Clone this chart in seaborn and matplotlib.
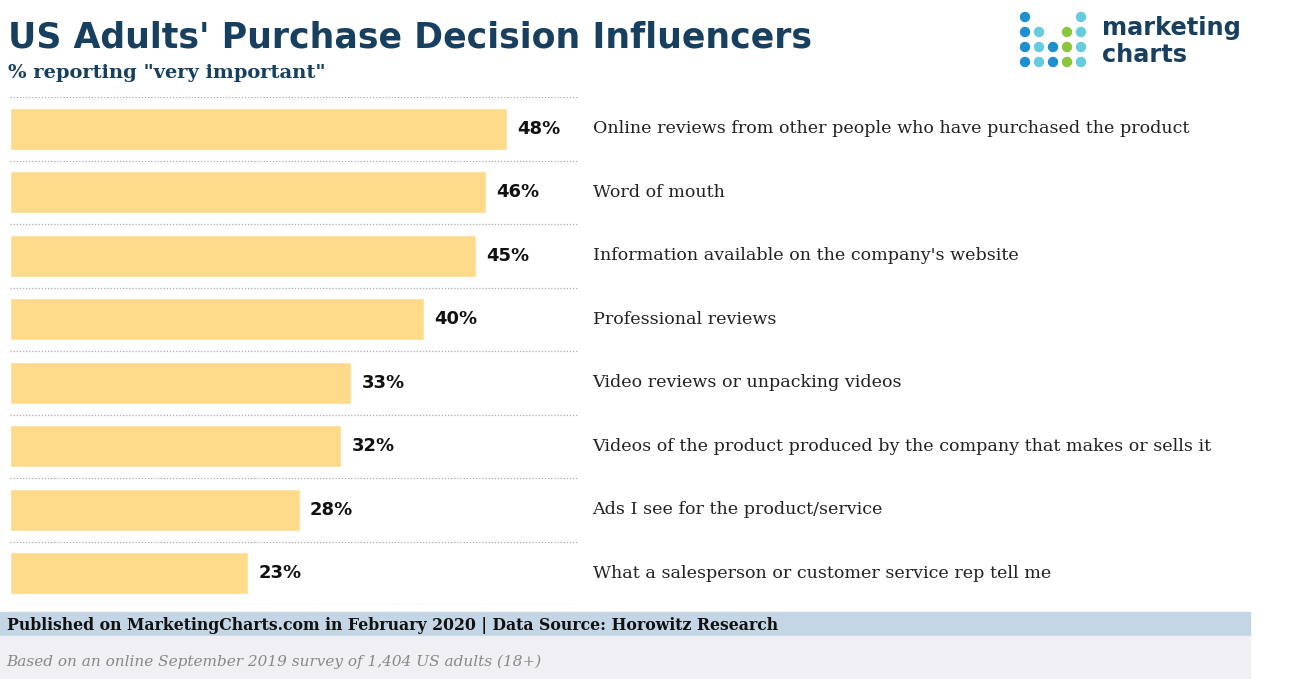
import numpy as np
import pandas as pd
import matplotlib
matplotlib.use("Agg")
import matplotlib.pyplot as plt
import seaborn as sns
from matplotlib.patches import Rectangle

labels = ["Online reviews from other people who have purchased the product",
          "Word of mouth",
          "Information available on the company's website",
          "Professional reviews",
          "Video reviews or unpacking videos",
          "Videos of the product produced by the company that makes or sells it",
          "Ads I see for the product/service",
          "What a salesperson or customer service rep tell me"]
values = [48, 46, 45, 40, 33, 32, 28, 23]

df = pd.DataFrame({"label": labels, "value": values})

sns.set_style("white")
fig = plt.figure(figsize=(13.09, 6.79), dpi=100)
ax = fig.add_axes([0.0076, 0.109, 0.434, 0.748])
sns.barplot(data=df, x="value", y="label", color="#fedb8b", width=0.66, saturation=1, ax=ax)
ax.set_xlim(0, 54.9)
ax.set_ylim(7.5, -0.5)
for i in range(9):
    ax.axhline(i - 0.5, color="#aaaaaa", ls=(0, (1, 1.5)), lw=0.9)
for i, v in enumerate(values):
    ax.text(v + 1, i, f"{v}%", va="center", ha="left", fontsize=13, fontweight="bold", color="#111111")
    ax.text(56.3, i, labels[i], va="center", ha="left", fontsize=12.6, family="DejaVu Serif",
            color="#222222", clip_on=False)
ax.set_xticks([]); ax.set_yticks([])
ax.set_xlabel(""); ax.set_ylabel("")
sns.despine(ax=ax, left=True, bottom=True)

navy = "#173f5f"
fig.text(0.006, 0.945, "US Adults' Purchase Decision Influencers", fontsize=25, fontweight="bold",
         color=navy, va="center")
fig.text(0.006, 0.892, '% reporting "very important"', fontsize=14, fontweight="bold",
         color=navy, va="center", family="DejaVu Serif")

# footer bands
fig.patches.append(Rectangle((0, 679 - 636), 1250, 24, transform=None, color="#c4d6e6", zorder=0))
fig.patches.append(Rectangle((0, 0), 1250, 679 - 636, transform=None, color="#f0f0f4", zorder=0))
fig.text(0.005, 1 - 625 / 679, "Published on MarketingCharts.com in February 2020 | Data Source: Horowitz Research",
         fontsize=11.3, fontweight="bold", family="DejaVu Serif", color="#111111", va="center")
fig.text(0.005, 1 - 662 / 679, "Based on an online September 2019 survey of 1,404 US adults (18+)",
         fontsize=11, style="italic", family="DejaVu Serif", color="#888888", va="center")

# logo
dots = [(0, 0, "#1e8fcf"), (0, 1, "#1e8fcf"), (0, 2, "#1e8fcf"), (0, 3, "#1e8fcf"),
        (1, 1, "#66ccdd"), (1, 2, "#66ccdd"), (1, 3, "#66ccdd"),
        (2, 2, "#1e8fcf"), (2, 3, "#1e8fcf"),
        (3, 1, "#8cc63f"), (3, 2, "#8cc63f"), (3, 3, "#8cc63f"),
        (4, 0, "#66ccdd"), (4, 1, "#66ccdd"), (4, 2, "#66ccdd"), (4, 3, "#66ccdd")]
for cx, cy, c in dots:
    fig.patches.append(plt.Circle((1025 + cx * 14, 679 - (17 + cy * 15)), 4.5, transform=None, color=c))
fig.text(1102 / 1309, 1 - 28 / 679, "marketing", fontsize=17.3, fontweight="bold", color=navy, va="center")
fig.text(1102 / 1309, 1 - 55 / 679, "charts", fontsize=17.3, fontweight="bold", color=navy, va="center")

fig.savefig("out.png", dpi=100)
